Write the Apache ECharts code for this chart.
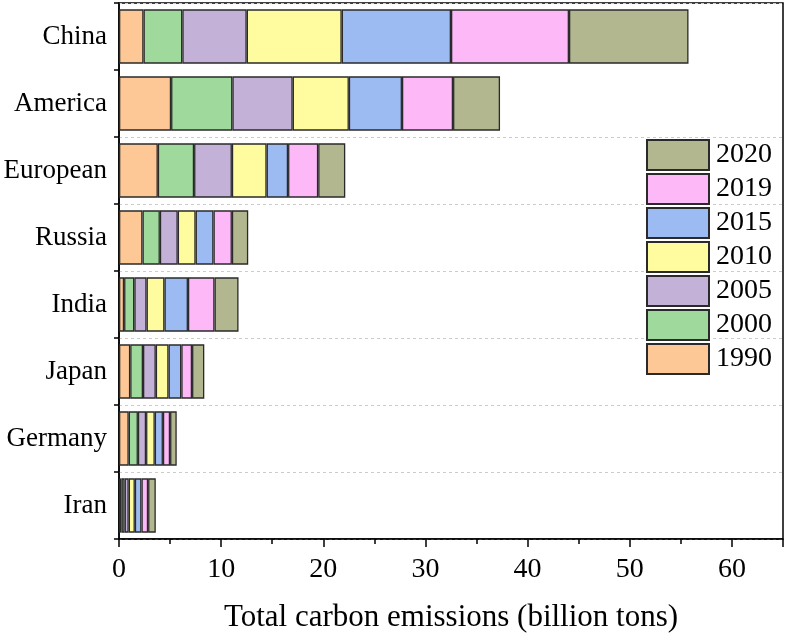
<!DOCTYPE html>
<html>
<head>
<meta charset="utf-8">
<script src="https://cdn.jsdelivr.net/npm/echarts@6/dist/echarts.min.js"></script>
<style>
html,body{margin:0;padding:0;background:#fff;}
#main{width:787px;height:634px;}
</style>
</head>
<body>
<div id="main"></div>
<script>
const categories = ["China","America","European","Russia","India","Japan","Germany","Iran"];
const years = ["1990","2000","2005","2010","2015","2019","2020"];
const v1990 = [2.4, 5.1, 3.8, 2.3, 0.5, 1.1, 0.95, 0.25];
const v2000 = [3.8, 6.0, 3.55, 1.7, 1.0, 1.25, 0.9, 0.3];
const v2005 = [6.3, 5.9, 3.7, 1.75, 1.2, 1.25, 0.8, 0.4];
const v2010 = [9.3, 5.5, 3.4, 1.75, 1.75, 1.25, 0.85, 0.6];
const v2015 = [10.7, 5.2, 2.1, 1.75, 2.3, 1.25, 0.8, 0.65];
const v2019 = [11.55, 5.0, 2.95, 1.8, 2.6, 1.05, 0.7, 0.65];
const v2020 = [11.7, 4.6, 2.65, 1.6, 2.35, 1.2, 0.65, 0.75];
const xTicks = [0, 10, 20, 30, 40, 50, 60];
const colors = ["#FDC896","#9FD99C","#C3B1D7","#FEFC9E","#9DBBF3","#FDB8F8","#B3B790"];
const seriesValues = [v1990, v2000, v2005, v2010, v2015, v2019, v2020];

const font = "'Liberation Serif','Times New Roman',serif";
const chart = echarts.init(document.getElementById('main'), null, {renderer:'canvas'});
chart.setOption({
  animation:false,
  backgroundColor:'#fff',
  grid:{left:119, right:4, top:3, bottom:95, containLabel:false, outerBoundsMode:'none',
    show:true, borderColor:'#000', borderWidth:1.5, backgroundColor:'transparent'},
  legend:{
    orient:'vertical', left:646, top:139, padding:0,
    data: years.slice().reverse(),
    itemWidth:62, itemHeight:30, itemGap:2,
    textStyle:{fontFamily:font, fontSize:28, color:'#000', lineHeight:28, padding:[0,0,0,2]},
    icon:'rect'
  },
  xAxis:{
    type:'value', min:0, max:65, interval:10,
    axisLine:{show:true, lineStyle:{color:'#000', width:1.5}},
    axisTick:{show:true, length:8, lineStyle:{color:'#000', width:1.5}},
    minorTick:{show:true, splitNumber:2, length:5, lineStyle:{color:'#000', width:1.5}},
    splitLine:{show:false},
    axisLabel:{fontFamily:font, fontSize:28, color:'#000', margin:17,
      formatter:function(v){ return xTicks.indexOf(v) >= 0 ? String(v) : ''; }},
    name:'Total carbon emissions (billion tons)',
    nameLocation:'middle', nameGap:63,
    nameTextStyle:{fontFamily:font, fontSize:31, color:'#000'}
  },
  yAxis:{
    type:'category', inverse:true, data:categories,
    axisLine:{show:true, lineStyle:{color:'#000', width:1.5}},
    axisTick:{show:true, length:5, lineStyle:{color:'#000', width:1.5}},
    axisLabel:{fontFamily:font, fontSize:27, color:'#000', margin:12},
    splitLine:{show:true, interval:function(i){ return i !== 1; }, lineStyle:{color:'#ccc', type:[3,3], width:1}}
  },
  series: years.map(function(y, k){
    return {
      name:y, type:'bar', stack:'total', data:seriesValues[k],
      barCategoryGap:'19%',
      itemStyle:{color:colors[k], borderColor:'#2a2a2a', borderWidth:1.3}
    };
  })
});
</script>
</body>
</html>
